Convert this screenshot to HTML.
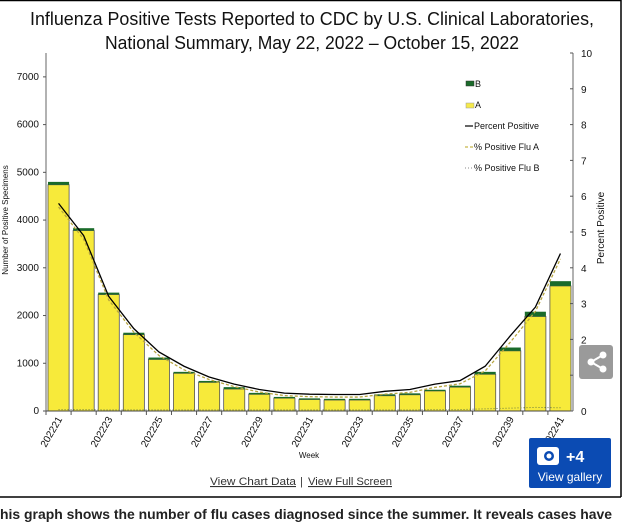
<!DOCTYPE html>
<html><head><meta charset="utf-8"><style>
body{margin:0;width:631px;height:523px;overflow:hidden;background:#fff;font-family:"Liberation Sans",sans-serif;}
</style></head><body>
<svg width="631" height="523" xmlns="http://www.w3.org/2000/svg">
<line x1="0" y1="0.5" x2="621" y2="0.5" stroke="#000" stroke-width="1.5"/>
<line x1="621" y1="0" x2="621" y2="497" stroke="#000" stroke-width="1.5"/>
<line x1="0" y1="497" x2="621" y2="497" stroke="#000" stroke-width="1.5"/>
<text x="312" y="25" text-anchor="middle" font-size="18" textLength="564" lengthAdjust="spacingAndGlyphs" fill="#111">Influenza Positive Tests Reported to CDC by U.S. Clinical Laboratories,</text>
<text x="312" y="49" text-anchor="middle" font-size="18" textLength="414" lengthAdjust="spacingAndGlyphs" fill="#111">National Summary, May 22, 2022 – October 15, 2022</text>
<g id="plot"></g>
<g font-size="9" fill="#111">
<rect x="466" y="81" width="8" height="5" fill="#1a6b2a" stroke="#333" stroke-width="0.5"/>
<text x="475" y="87">B</text>
<rect x="466" y="103" width="8" height="5" fill="#f5e94a" stroke="#999" stroke-width="0.5"/>
<text x="475" y="108">A</text>
<line x1="465" y1="126" x2="473" y2="126" stroke="#000" stroke-width="1.2"/>
<text x="474" y="129">Percent Positive</text>
<line x1="465" y1="147" x2="473" y2="147" stroke="#c8b84a" stroke-width="1.2" stroke-dasharray="3,2"/>
<text x="474" y="150">% Positive Flu A</text>
<line x1="465" y1="168" x2="473" y2="168" stroke="#888" stroke-width="1" stroke-dasharray="1,2"/>
<text x="474" y="171">% Positive Flu B</text>
</g>
<text transform="translate(8,220) rotate(-90)" text-anchor="middle" font-size="8" fill="#111">Number of Positive Specimens</text>
<text transform="translate(604,228) rotate(-90)" text-anchor="middle" font-size="10" fill="#111">Percent Positive</text>
<text x="309" y="458" text-anchor="middle" font-size="8" fill="#111">Week</text>
<text x="296" y="485" text-anchor="end" font-size="11" textLength="86" lengthAdjust="spacingAndGlyphs" fill="#333" text-decoration="underline">View Chart Data</text>
<text x="300" y="485" font-size="11" fill="#333">|</text>
<text x="308" y="485" font-size="11" textLength="84" lengthAdjust="spacingAndGlyphs" fill="#333" text-decoration="underline">View Full Screen</text>
<g>
<rect x="529" y="438" width="82" height="50" rx="2" fill="#0b4bb3"/>
<rect x="537" y="447" width="22" height="18" rx="3" fill="#fff"/>
<circle cx="549" cy="456" r="5" fill="#0b4bb3"/><circle cx="549" cy="456" r="2.5" fill="#fff"/>
<text x="566" y="462" font-size="16" font-weight="bold" fill="#fff">+4</text>
<text x="570" y="481" text-anchor="middle" font-size="12" fill="#fff">View gallery</text>
</g>
<g>
<rect x="579" y="345" width="34" height="34" rx="3" fill="#9a9a9a"/>
<circle cx="591" cy="362" r="3.5" fill="#fff"/><circle cx="603" cy="355" r="3.5" fill="#fff"/><circle cx="603" cy="369" r="3.5" fill="#fff"/>
<line x1="591" y1="362" x2="603" y2="355" stroke="#fff" stroke-width="2"/><line x1="591" y1="362" x2="603" y2="369" stroke="#fff" stroke-width="2"/>
</g>
<text x="0" y="519" font-size="14" font-weight="bold" textLength="612" lengthAdjust="spacingAndGlyphs" fill="#222">his graph shows the number of flu cases diagnosed since the summer. It reveals cases have</text>
</svg>
<script>
const weeks=["202221","202222","202223","202224","202225","202226","202227","202228","202229","202230","202231","202232","202233","202234","202235","202236","202237","202238","202239","202240","202241"];
const fluA=[4740,3780,2440,1600,1080,790,600,460,350,270,240,230,230,320,340,420,500,770,1260,1980,2620];
const fluB=[60,50,40,40,40,30,30,40,30,25,25,25,25,30,30,25,30,50,70,100,100];
const pctPos=[5.8,4.9,3.2,2.3,1.65,1.25,0.95,0.75,0.6,0.5,0.47,0.46,0.46,0.55,0.6,0.75,0.85,1.25,2.1,2.9,4.4];
const pctA=[5.7,4.8,3.1,2.2,1.55,1.15,0.88,0.68,0.53,0.43,0.4,0.39,0.39,0.47,0.52,0.66,0.76,1.12,1.92,2.78,4.25];
const pctB=[0.04,0.04,0.03,0.03,0.03,0.03,0.03,0.03,0.03,0.03,0.03,0.03,0.03,0.03,0.03,0.04,0.04,0.06,0.08,0.1,0.09];
const leftTicks=[0,1000,2000,3000,4000,5000,6000,7000];
const rightTicks=[0,1,2,3,4,5,6,7,8,9,10];
const NS="http://www.w3.org/2000/svg";
const g=document.getElementById('plot');
const X0=46,X1=573,Y0=411,Y1=53;
const bw=(X1-X0)/weeks.length;
const yL=v=>Y0-(v/7500)*(Y0-Y1);
const yR=v=>Y0-(v/10)*(Y0-Y1);
const xC=i=>X0+bw*(i+0.5);
function mk(t,a){const e=document.createElementNS(NS,t);for(const k in a)e.setAttribute(k,a[k]);g.appendChild(e);return e;}
weeks.forEach((w,i)=>{
  const x=X0+bw*i+2,wd=bw-4;
  let r=mk('rect',{x:x,y:yL(fluA[i]),width:wd,height:Y0-yL(fluA[i]),fill:'#f7ea3a',stroke:'#555','stroke-width':0.8});
  
  
  let b=mk('rect',{x:x,y:yL(fluA[i]+fluB[i]),width:wd,height:yL(fluA[i])-yL(fluA[i]+fluB[i]),fill:'#1a6b2a'});
  
  
  mk('line',{x1:X0+bw*i,y1:Y0,x2:X0+bw*i,y2:Y0+4,stroke:'#555'});
  if(i%2===0){
    const t=mk('text',{transform:`translate(${xC(i)+4},${Y0+8}) rotate(-60)`,'text-anchor':'end','font-size':10,fill:'#111'});
    t.textContent=w;
    
    
  }
});
const axL=mk('line',{x1:X0,y1:Y1,x2:X0,y2:Y0,stroke:'#666'});


const axR=mk('line',{x1:X1,y1:Y1,x2:X1,y2:Y0,stroke:'#666'});


const axB=mk('line',{x1:X0,y1:Y0,x2:X1,y2:Y0,stroke:'#444'});


leftTicks.forEach(v=>{
  mk('line',{x1:X0-3,y1:yL(v),x2:X0,y2:yL(v),stroke:'#555'});
  const t=mk('text',{x:X0-7,y:yL(v)+3,'text-anchor':'end','font-size':10,fill:'#111'});
  t.textContent=v;
  
  
});
rightTicks.forEach(v=>{
  mk('line',{x1:X1-3,y1:yR(v),x2:X1,y2:yR(v),stroke:'#555'});
  const t=mk('text',{x:X1+8,y:yR(v)+4,'font-size':10,fill:'#111'});
  t.textContent=v;
  
  
});
function line(arr,attrs,name){
  const p=mk('polyline',Object.assign({points:arr.map((v,i)=>xC(i)+','+yR(v)).join(' '),fill:'none'},attrs));
  
  
}
line(pctB,{stroke:'#6a7a40','stroke-width':1,'stroke-dasharray':'1,2'},'line-pct-flu-b');
line(pctA,{stroke:'#b8a640','stroke-width':1.3,'stroke-dasharray':'3,2'},'line-pct-flu-a');
line(pctPos,{stroke:'#000','stroke-width':1.3},'line-percent-positive');
</script>
</body></html>
